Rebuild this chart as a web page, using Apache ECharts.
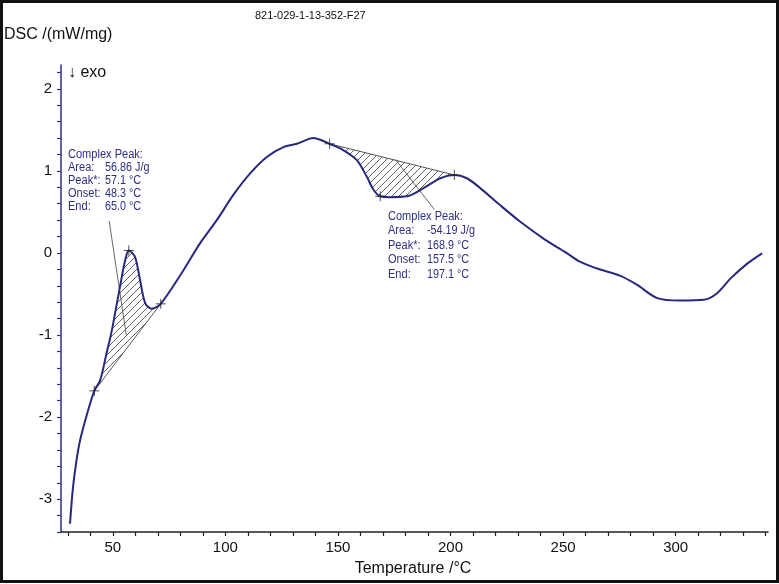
<!DOCTYPE html>
<html><head><meta charset="utf-8">
<script src="https://cdn.jsdelivr.net/npm/echarts@6/dist/echarts.min.js"></script>
<style>html,body{margin:0;padding:0;background:#fff}#c{width:779px;height:584px}</style>
</head><body><div id="c"></div>
<script>
// DSC curve
const tempC = [31.0,32.2,33.7,35.5,38.7,41.8,44.4,47.0,49.6,53.2,55.5,57.1,59.9,62.1,64.4,67.3,71.3,81.4,88.8,96.2,103.6,111.0,118.4,125.8,131.8,139.2,142.1,146.3,152.5,158.4,162.8,165.8,168.8,173.2,180.7,188.0,195.5,201.7,207.3,213.2,222.1,231.0,242.1,251.0,257.7,265.1,275.5,282.9,291.8,302.1,312.5,318.4,324.4,331.8,338.4];
const dscSignal = [-3.30,-2.89,-2.56,-2.28,-1.95,-1.68,-1.55,-1.25,-0.94,-0.41,-0.09,0.03,-0.05,-0.33,-0.61,-0.68,-0.62,-0.21,0.12,0.40,0.71,0.97,1.17,1.29,1.33,1.40,1.38,1.33,1.25,1.13,0.93,0.77,0.69,0.68,0.69,0.79,0.91,0.95,0.91,0.79,0.58,0.38,0.16,0.01,-0.11,-0.19,-0.28,-0.39,-0.55,-0.58,-0.57,-0.49,-0.31,-0.13,-0.005];

// integration limits (baseline end points) of the two complex peaks
const peak1Limits = [[41.8,-1.68],[71.3,-0.62]];
const peak2Limits = [[146.3,1.33],[201.7,0.95]];
// marked peak points
const peakMarks = [[57.1,0.03],[168.8,0.69]];
// leader lines from the area to the text
const leader1 = [[48.4,0.39],[56.0,-1.0]];
const leader2 = [[175.5,1.14],[192.8,0.53]];

// tick values
const xTicks = [30,40,50,60,70,80,90,100,110,120,130,140,150,160,170,180,190,200,210,220,230,240,250,260,270,280,290,300,310,320,330,340];
const xLabels = [50,100,150,200,250,300];
const yTicks = [-3.4,-3.2,-3.0,-2.8,-2.6,-2.4,-2.2,-2.0,-1.8,-1.6,-1.4,-1.2,-1.0,-0.8,-0.6,-0.4,-0.2,0,0.2,0.4,0.6,0.8,1.0,1.2,1.4,1.6,1.8,2.0,2.2];
const yLabels = [-3,-2,-1,0,1,2];

const box1Labels = ['Complex Peak:','Area:','Peak*:','Onset:','End:'];
const box1Values = ['56.86 J/g','57.1 °C','48.3 °C','65.0 °C'];
const box2Labels = ['Complex Peak:','Area:','Peak*:','Onset:','End:'];
const box2Values = ['-54.19 J/g','168.9 °C','157.5 °C','197.1 °C'];

const curve = tempC.map((t,i)=>[t,dscSignal[i]]);

function makeHatch(){
  const c=document.createElement('canvas'); c.width=c.height=7;
  const g=c.getContext('2d'); g.strokeStyle='#3a3a3a'; g.lineWidth=0.8;
  g.beginPath(); g.moveTo(0,7); g.lineTo(7,0); g.moveTo(-1,1); g.lineTo(1,-1); g.moveTo(6,8); g.lineTo(8,6); g.stroke();
  return c;
}
const hatch = makeHatch();

function areaSeries(lim){
  const pts = curve.filter(p=>p[0]>=lim[0][0]-1e-9 && p[0]<=lim[1][0]+1e-9);
  return {
    type:'custom', data:[lim[0]], z:2, silent:true,
    renderItem:(params,api)=>{
      const poly = pts.map(p=>api.coord(p));
      const a=api.coord(lim[0]), b=api.coord(lim[1]);
      return {type:'group',children:[
        {type:'polygon',shape:{points:poly},style:{fill:{image:hatch,repeat:'repeat'},stroke:null}},
        {type:'line',shape:{x1:a[0],y1:a[1],x2:b[0],y2:b[1]},style:{stroke:'#444',lineWidth:0.9}}
      ]};
    }
  };
}

const txtColor = '#2d2f85';
const font = '"Liberation Sans", Arial, sans-serif';
const chart = echarts.init(document.getElementById('c'));
chart.setOption({
  animation:false,
  backgroundColor:'#fff',
  grid:{left:61,right:11,top:65,bottom:52},
  xAxis:{type:'value',min:27,max:341,
    axisLine:{show:true,onZero:false,lineStyle:{color:'#222',width:1.5}},
    axisTick:{show:true,length:4,customValues:xTicks,lineStyle:{color:'#222',width:1.2}},
    axisLabel:{customValues:xLabels,color:'#111',fontSize:15,fontFamily:font,margin:8},
    splitLine:{show:false}},
  yAxis:{type:'value',min:-3.4,max:2.29,
    axisLine:{show:true,onZero:false,lineStyle:{color:'#2e2e8c',width:1.5}},
    axisTick:{show:true,length:4,customValues:yTicks,lineStyle:{color:'#2e2e8c',width:1.2}},
    axisLabel:{customValues:yLabels,color:'#111',fontSize:15,fontFamily:font,margin:9},
    splitLine:{show:false}},
  series:[
    areaSeries(peak1Limits),
    areaSeries(peak2Limits),
    {type:'line',data:curve,smooth:0.3,symbol:'none',z:5,lineStyle:{color:'#28287e',width:2}},
    {type:'line',data:leader1,symbol:'none',z:4,lineStyle:{color:'#555',width:0.9}},
    {type:'line',data:leader2,symbol:'none',z:4,lineStyle:{color:'#555',width:0.9}},
    {type:'scatter',data:peak1Limits.concat(peak2Limits,peakMarks),symbol:'path://M0,5L10,5M5,0L5,10',symbolSize:10,z:6,
     itemStyle:{color:'rgba(0,0,0,0)',borderColor:'#222',borderWidth:1}}
  ],
  graphic:[
    {type:'rect',shape:{x:1.5,y:1.5,width:776,height:580},style:{fill:null,stroke:'#111',lineWidth:3},z:100},
    {type:'text',left:255,top:10,style:{text:'821-029-1-13-352-F27',font:'11px '+font,fill:'#111'}},
    {type:'text',x:4,y:35,style:{text:'DSC /(mW/mg)',font:'16px '+font,fill:'#111',verticalAlign:'middle'}},
    {type:'text',x:68,y:73,style:{text:'↓ exo',font:'16px '+font,fill:'#111',verticalAlign:'middle'}},
    {type:'text',x:413,y:569,style:{text:'Temperature /°C',font:'16px '+font,fill:'#111',align:'center',verticalAlign:'middle'}},
    {type:'text',x:68,y:148,scaleX:0.92,style:{text:box1Labels.join('\n'),font:'12px '+font,fill:txtColor,lineHeight:13}},
    {type:'text',x:105,y:161,scaleX:0.9,style:{text:box1Values.join('\n'),font:'12px '+font,fill:txtColor,lineHeight:13}},
    {type:'text',x:388,y:209,scaleX:0.92,style:{text:box2Labels.join('\n'),font:'12px '+font,fill:txtColor,lineHeight:14.5}},
    {type:'text',x:427,y:223.5,scaleX:0.9,style:{text:box2Values.join('\n'),font:'12px '+font,fill:txtColor,lineHeight:14.5}}
  ]
});
</script></body></html>
